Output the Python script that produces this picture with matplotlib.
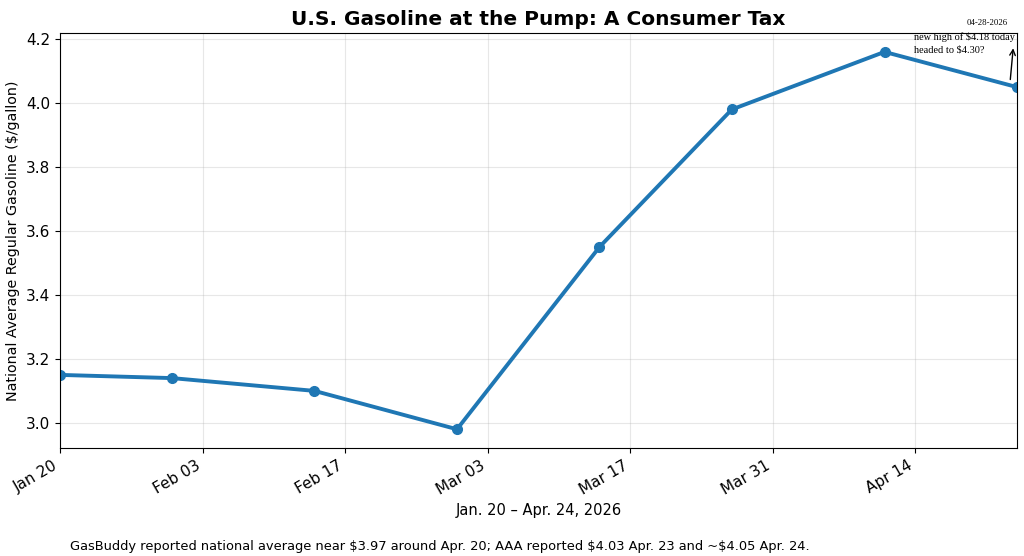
import pandas as pd
import matplotlib
matplotlib.use("Agg")
import matplotlib.pyplot as plt
import matplotlib.dates as mdates

# Data
dates = ["2026-01-20", "2026-01-31", "2026-02-14", "2026-02-28",
         "2026-03-14", "2026-03-27", "2026-04-11", "2026-04-24"]
prices = [3.15, 3.14, 3.10, 2.98, 3.55, 3.98, 4.16, 4.05]

title = "U.S. Gasoline at the Pump: A Consumer Tax"
ylabel = "National Average Regular Gasoline ($/gallon)"
xlabel = "Jan. 20 \u2013 Apr. 24, 2026"
footer = ("GasBuddy reported national average near $3.97 around Apr. 20; "
          "AAA reported $4.03 Apr. 23 and ~$4.05 Apr. 24.")
note = "new high of $4.18 today\nheaded to $4.30?"
stamp = "04-28-2026"

x = pd.to_datetime(dates)

fig, ax = plt.subplots(figsize=(10.24, 5.56), dpi=100)
fig.subplots_adjust(left=0.0586, right=0.993, top=0.9406, bottom=0.194)

ax.plot(x, prices, color="#1f77b4", linewidth=2.8, marker="o", markersize=7)
ax.set_xlim(x[0], x[-1])

ax.xaxis.set_major_locator(mdates.WeekdayLocator(byweekday=mdates.TU, interval=2))
ax.xaxis.set_major_formatter(mdates.DateFormatter("%b %d"))
plt.setp(ax.get_xticklabels(), rotation=30, ha="right")

ax.grid(True, alpha=0.3)
ax.tick_params(labelsize=11)
ax.set_title(title, fontsize=14.5, fontweight="bold")
ax.set_ylabel(ylabel, fontsize=10.3)
ax.set_xlabel(xlabel, fontsize=10.5)

# annotation near the last point
ax.annotate("", xy=(x[-1] - pd.Timedelta(hours=8), 4.18),
            xytext=(x[-1] - pd.Timedelta(hours=16), 4.065),
            arrowprops=dict(arrowstyle="->", color="black", lw=1))
ax.text(0.893, 1.002, note, transform=ax.transAxes,
        fontsize=7.4, family="Liberation Serif", va="top", ha="left",
        linespacing=1.5)
fig.text(0.964, 0.958, stamp, fontsize=6.3, family="Liberation Serif",
         ha="center", va="center")

fig.text(0.068, 0.01, footer, fontsize=9.4)

fig.savefig("out.png", dpi=100)
